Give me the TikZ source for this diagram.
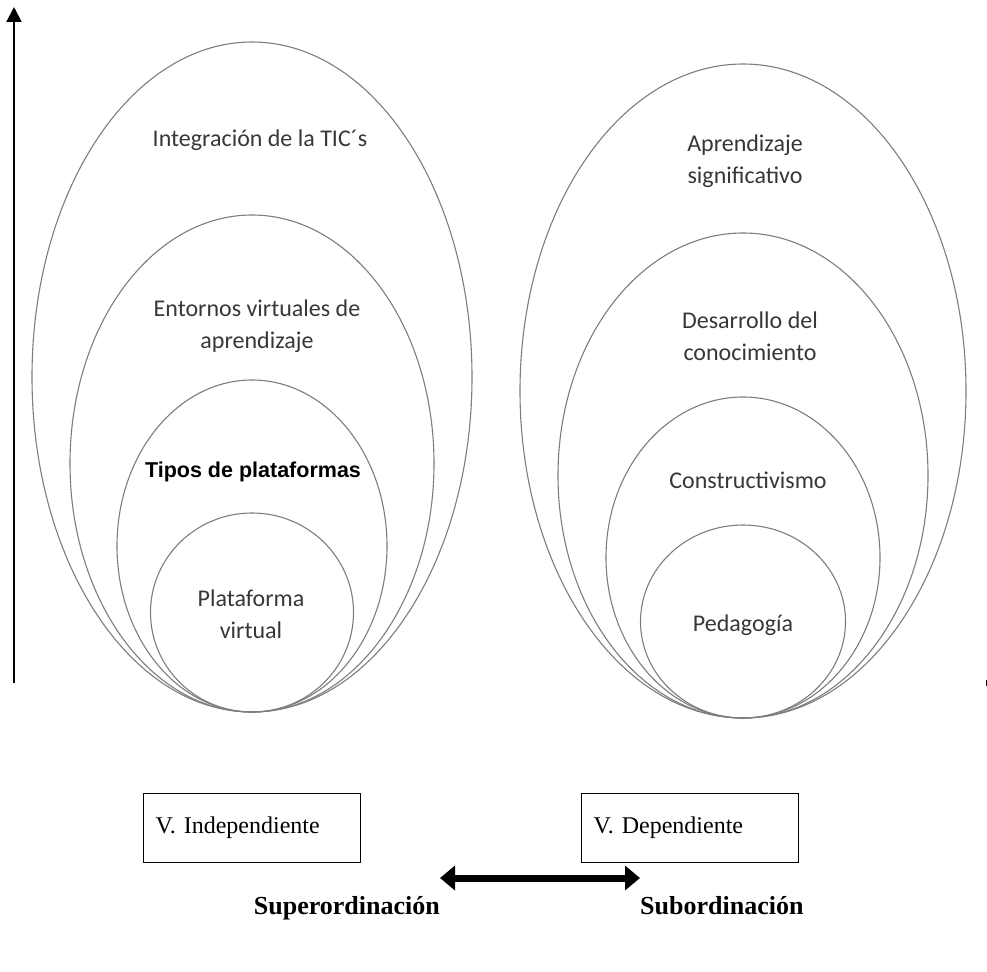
\documentclass[tikz,border=0pt]{standalone}
\usepackage{fontspec}
\setmainfont{Liberation Serif}
\newfontfamily\calibfont{Carlito}
\newfontfamily\arialfont{Liberation Sans}
\usetikzlibrary{arrows.meta}
\definecolor{ringgray}{RGB}{125,125,125}
\definecolor{labelgray}{RGB}{55,55,55}
\tikzset{
  ring/.style={draw=ringgray, line width=1.1pt},
  ringlabel/.style={font=\calibfont\fontsize{24}{32}\selectfont, text=labelgray, align=center, inner sep=0pt},
  boldlabel/.style={font=\arialfont\bfseries\fontsize{21.5}{26}\selectfont, inner sep=0pt},
  varbox/.style={draw, line width=1.2pt, anchor=north west, text width=193pt, inner xsep=12pt, minimum height=69pt, align=left, font=\fontsize{24}{28}\selectfont},
  relabel/.style={font=\bfseries\fontsize{26}{30}\selectfont, inner sep=0pt},
  axisarrow/.style={line width=2pt, -{Triangle[length=15pt, width=15pt]}},
  dblarrow/.style={line width=7pt, {Triangle[length=15pt, width=24pt]}-{Triangle[length=15pt, width=24pt]}}
}
\begin{document}
\begin{tikzpicture}[x=1pt, y=-1pt]
  \useasboundingbox (0,0) rectangle (987,971);
  % vertical axis
  \coordinate (axisbot) at (14,683);
  \coordinate (axistop) at (14,7);
  \draw[axisarrow] (axisbot) -- (axistop);
  \coordinate (tickbot) at (986,686);
  \coordinate (ticktop) at (986,680);
  \draw[line width=1pt] (tickbot) -- (ticktop);
  % left rings
  \draw[ring] (252,377) ellipse [x radius=220, y radius=335];
  \draw[ring] (252,463.5) ellipse [x radius=182, y radius=248.5];
  \draw[ring] (252,546) ellipse [x radius=135, y radius=166];
  \draw[ring] (252,612.5) ellipse [x radius=101.5, y radius=99.5];
  \node[ringlabel] (tic) at (260,140) {Integración de la TIC´s};
  \node[ringlabel] (entornos) at (257,326) {Entornos virtuales de\\aprendizaje};
  \node[boldlabel] (tipos) at (253,472) {Tipos de plataformas};
  \node[ringlabel] (plataforma) at (251,614) {Plataforma\\virtual};
  % right rings
  \draw[ring] (743,391) ellipse [x radius=223, y radius=327];
  \draw[ring] (743,475.5) ellipse [x radius=185, y radius=242.5];
  \draw[ring] (743,557.5) ellipse [x radius=137, y radius=160.5];
  \draw[ring] (743,621.5) ellipse [x radius=102.5, y radius=96.5];
  \node[ringlabel] (aprendizaje) at (745,161) {Aprendizaje\\significativo};
  \node[ringlabel] (desarrollo) at (750,336) {Desarrollo del\\conocimiento};
  \node[ringlabel] (constructivismo) at (748,480) {Constructivismo};
  \node[ringlabel] (pedagogia) at (743,625) {Pedagogía};
  % variables
  \node[varbox] (indep) at (143,793) {V. Independiente};
  \node[varbox] (dep) at (581,793) {V. Dependiente};
  \coordinate (arrleft) at (440,878);
  \coordinate (arrright) at (640,878);
  \draw[dblarrow] (arrleft) -- (arrright);
  \node[relabel, anchor=north east] (super) at (arrleft |- 0,896) {Superordinación};
  \node[relabel, anchor=north west] (sub) at (arrright |- 0,896) {Subordinación};
\end{tikzpicture}
\end{document}
